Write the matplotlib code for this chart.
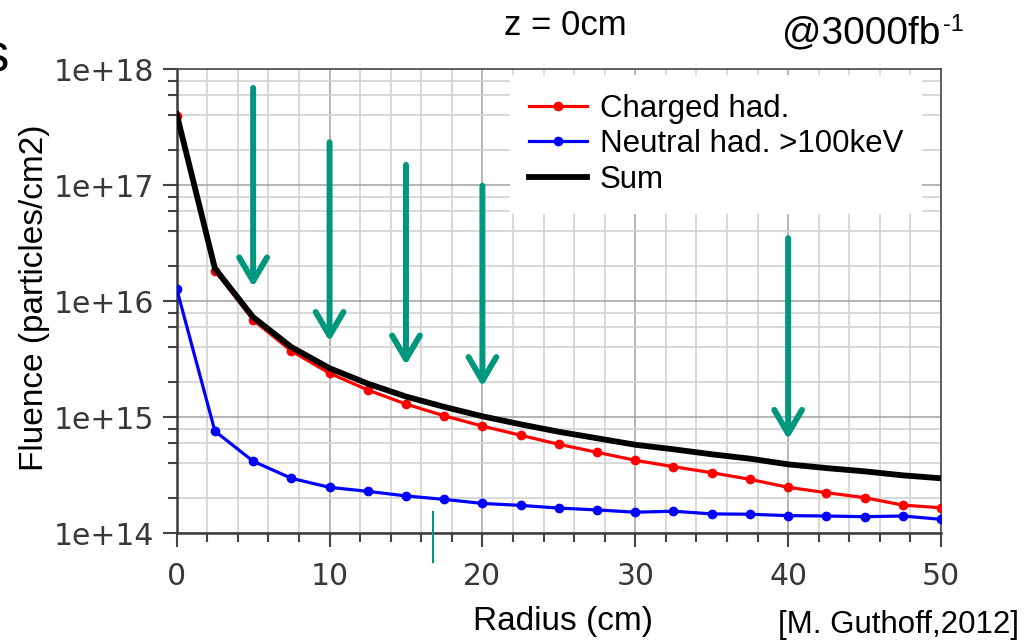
import matplotlib
matplotlib.use('Agg')
import matplotlib.pyplot as plt
from matplotlib.ticker import LogLocator, MultipleLocator, FixedLocator, FixedFormatter, NullFormatter

# ---------------- data ----------------
radius = [0, 2.5, 5, 7.5, 10, 12.5, 15, 17.5, 20, 22.5, 25,
          27.5, 30, 32.5, 35, 37.5, 40, 42.5, 45, 47.5, 50]
charged = [3.98e17, 1.84e16, 6.9e15, 3.73e15, 2.40e15, 1.72e15, 1.30e15,
           1.03e15, 8.4e14, 7.0e14, 5.85e14, 4.99e14, 4.26e14, 3.75e14,
           3.33e14, 2.92e14, 2.49e14, 2.24e14, 2.03e14, 1.75e14, 1.66e14]
neutral = [1.28e16, 7.6e14, 4.18e14, 2.98e14, 2.49e14, 2.30e14, 2.10e14,
           1.96e14, 1.81e14, 1.74e14, 1.65e14, 1.59e14, 1.52e14, 1.55e14,
           1.47e14, 1.46e14, 1.42e14, 1.41e14, 1.39e14, 1.41e14, 1.32e14]
total = [4.1e17, 1.92e16, 7.3e15, 4.03e15, 2.65e15, 1.95e15, 1.51e15,
         1.23e15, 1.02e15, 8.7e14, 7.5e14, 6.6e14, 5.8e14, 5.3e14,
         4.8e14, 4.4e14, 3.93e14, 3.65e14, 3.42e14, 3.16e14, 2.98e14]
series_labels = ['Charged had.', 'Neutral had. >100keV', 'Sum']
xticks = [0, 10, 20, 30, 40, 50]
xtick_labels = ['0', '10', '20', '30', '40', '50']
yticks = [1e14, 1e15, 1e16, 1e17, 1e18]
ytick_labels = ['1e+14', '1e+15', '1e+16', '1e+17', '1e+18']
arrow_x = [5, 10, 15, 20, 40]
arrow_top = [6.9e17, 2.35e17, 1.5e17, 9.9e16, 3.5e16]
arrow_tip = [1.33e16, 4.5e15, 2.82e15, 1.84e15, 6.45e14]
marker_x = 16.75
marker_y = [1.53e14, 5.66e13]

TEAL = '#00977f'
ARIAL = ['Liberation Sans', 'DejaVu Sans']

fig = plt.figure(figsize=(10.32, 6.44), dpi=100)
ax = fig.add_axes([176.7 / 1032, 1 - 533.3 / 644, (941 - 176.7) / 1032, (533.3 - 69.3) / 644])
ax.set_yscale('log')
ax.set_xlim(0, 50)
ax.set_ylim(1e14, 1e18)

ax.xaxis.set_major_locator(FixedLocator(xticks))
ax.xaxis.set_major_formatter(FixedFormatter(xtick_labels))
ax.xaxis.set_minor_locator(MultipleLocator(2))
ax.yaxis.set_major_locator(FixedLocator(yticks))
ax.yaxis.set_major_formatter(FixedFormatter(ytick_labels))
ax.yaxis.set_minor_locator(LogLocator(base=10, subs=[2, 4, 6, 8]))
ax.yaxis.set_minor_formatter(NullFormatter())

ax.set_axisbelow(True)
ax.grid(which='minor', color='#d2d2d2', lw=1.2)
ax.grid(which='major', color='#a0a0a0', lw=1.1)

ax.tick_params(which='major', length=10, width=1.5, color='#444444', direction='out',
               labelsize=21.5, labelcolor='#383838')
ax.tick_params(which='minor', length=6.5, width=1.5, color='#444444', direction='out')
ax.tick_params(axis='x', which='major', pad=11)
ax.tick_params(axis='y', which='major', pad=6)
for lab in ax.get_xticklabels() + ax.get_yticklabels():
    lab.set_family('DejaVu Sans')

for side in ['left', 'bottom']:
    ax.spines[side].set_color('#3c3c3c')
    ax.spines[side].set_linewidth(1.8)
for side in ['top', 'right']:
    ax.spines[side].set_color('#4a4a4a')
    ax.spines[side].set_linewidth(1.2)

ax.plot(radius, charged, color='#ff0000', lw=2.3, marker='o', ms=6,
        label=series_labels[0], zorder=3)
ax.plot(radius, neutral, color='#0000ff', lw=2.3, marker='o', ms=6,
        label=series_labels[1], zorder=3)
ax.plot(radius, total, color='black', lw=4.2, label=series_labels[2], zorder=4)

for xa, yt, yb in zip(arrow_x, arrow_top, arrow_tip):
    ax.annotate('', xy=(xa, yb), xytext=(xa, yt),
                arrowprops=dict(arrowstyle='->,head_length=0.85,head_width=0.5',
                                lw=4.3, color=TEAL, mutation_scale=20,
                                shrinkA=0, shrinkB=0),
                zorder=6)

ax.plot([marker_x, marker_x], marker_y, color=TEAL, lw=1.5, clip_on=False, zorder=6)

leg = ax.legend(loc='upper right', bbox_to_anchor=(0.975, 0.988), frameon=True,
                fancybox=False, framealpha=1, edgecolor='none', facecolor='white',
                prop={'family': ARIAL, 'size': 22.5}, handlelength=1.85,
                handletextpad=0.42, labelspacing=0.18, borderpad=0.6,
                borderaxespad=0.0, numpoints=1)
leg.set_zorder(5)

fig.text(35 / 1032, 1 - 298 / 644, 'Fluence (particles/cm2)', rotation=90,
         ha='center', va='center', fontsize=24, family=ARIAL, color='black')
fig.text(563 / 1032, 1 - 630 / 644, 'Radius (cm)', ha='center', va='baseline',
         fontsize=24, family=ARIAL, color='black')
fig.text(504 / 1032, 1 - 35 / 644, 'z = 0cm', ha='left', va='baseline',
         fontsize=25, family=ARIAL, color='black')
fig.text(782 / 1032, 1 - 43 / 644, '@3000fb', ha='left', va='baseline',
         fontsize=28, family=ARIAL, color='black')
fig.text(943 / 1032, 1 - 31 / 644, '-1', ha='left', va='baseline',
         fontsize=17, family=ARIAL, color='black')
fig.text(778 / 1032, 1 - 625 / 644, '[M. Guthoff,2012]', ha='left', va='center',
         fontsize=22.5, family=ARIAL, color='black')
fig.text(9 / 1032, 1 - 71 / 644, 's', ha='right', va='baseline',
         fontsize=38, family=ARIAL, color='black')

fig.savefig('out.png', dpi=100)
